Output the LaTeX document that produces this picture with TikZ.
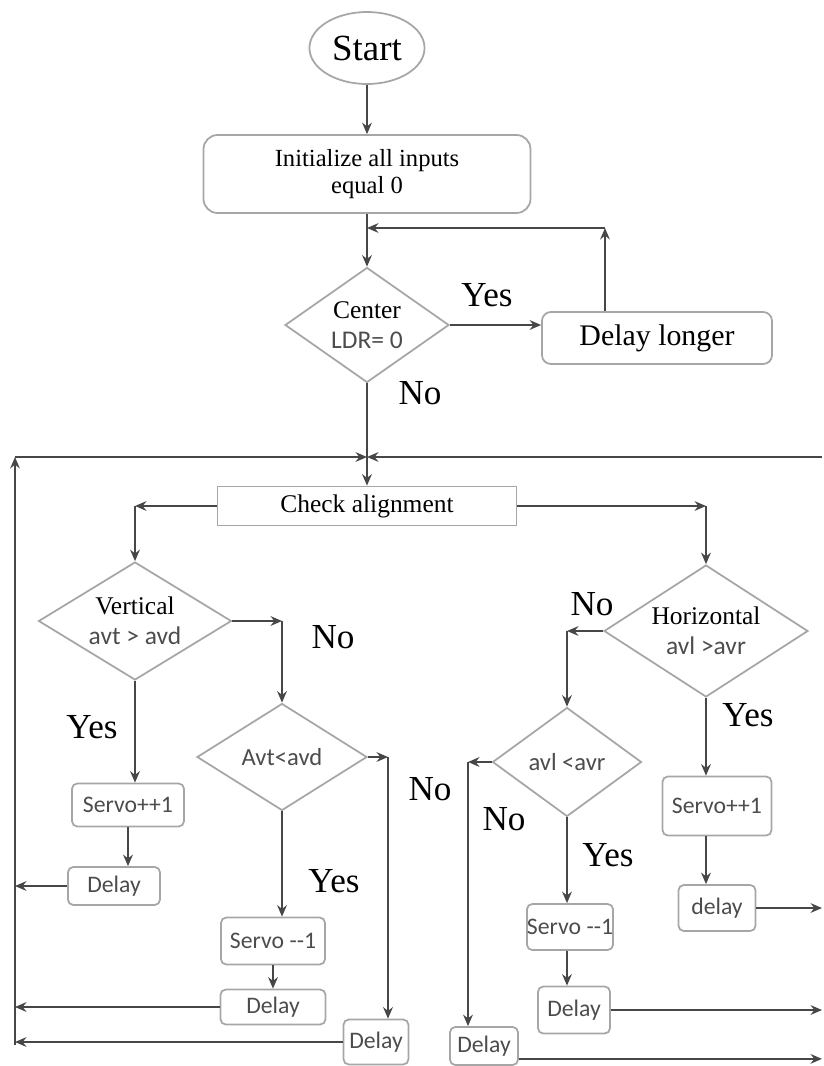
\documentclass[tikz,border=0pt]{standalone}
\usepackage{fontspec}
\setmainfont{Liberation Serif}
\setsansfont{Carlito}
\usetikzlibrary{arrows.meta, shapes.geometric}

\begin{document}
\begin{tikzpicture}[
    x=0.02cm, y=-0.02cm, % one unit is one pixel of the layout, y runs downwards
    >={Stealth[length=6.5pt, width=5.5pt]}, % Set default arrow tip style
    line/.style={->, draw=black!72, line width=1.5pt}, % Style for connectors
    outline/.style={draw=black!35, line width=1pt}, % Style for shape borders
    box/.style={outline, rounded corners=3pt, inner sep=0pt, text=black!70,
        font=\sffamily\fontsize{13.5}{16}\selectfont}, % small process boxes
    decision/.style={diamond, outline, inner sep=0pt, align=center,
        font=\fontsize{14.5}{17}\selectfont}, % decisions with serif title
    sdecision/.style={decision, text=black!70,
        font=\sffamily\fontsize{14}{16}\selectfont}, % decisions with sans text only
    lbl/.style={font=\fontsize{20}{22}\selectfont} % Yes / No labels
]
    \useasboundingbox (0,0) rectangle (824,1066);

    % Top part
    \node[ellipse, outline, minimum width=1.84cm, minimum height=1.44cm,
        font=\fontsize{21}{24}\selectfont] (start) at (367,48) {Start};
    \node[outline, rounded corners=8pt, minimum width=6.54cm, minimum height=1.56cm,
        align=center, font=\fontsize{14}{15.5}\selectfont] (init) at (367,174)
        {Initialize all inputs\\equal 0};
    \node[decision, aspect=1.43, minimum width=3.28cm, minimum height=2.30cm]
        (center) at (367,325) {Center\\{\sffamily\color{black!70}LDR= 0}};
    \node[outline, rounded corners=5pt, minimum width=4.6cm, minimum height=1.04cm,
        font=\fontsize{17}{20}\selectfont] (longer) at (657,338) {Delay longer};
    \node[outline, inner sep=0pt, minimum width=5.98cm, minimum height=0.78cm,
        font=\fontsize{14.5}{17}\selectfont] (check) at (367,506) {Check alignment};

    % Vertical branch
    \node[decision, aspect=1.64, minimum width=3.86cm, minimum height=2.36cm]
        (vert) at (135,621) {Vertical\\{\sffamily\color{black!70}avt > avd}};
    \node[sdecision, aspect=1.6, minimum width=3.4cm, minimum height=2.14cm]
        (avt) at (282,757) {Avt<avd};
    \node[box, minimum width=2.24cm, minimum height=0.86cm] (servoA) at (128,805) {Servo++1};
    \node[box, minimum width=1.84cm, minimum height=0.76cm] (delayA) at (114,886) {Delay};
    \node[box, minimum width=2.08cm, minimum height=0.94cm] (servoB) at (273,941) {Servo -{}-1};
    \node[box, minimum width=2.10cm, minimum height=0.70cm] (delayB) at (273,1007) {Delay};
    \node[box, minimum width=1.30cm, minimum height=0.90cm] (delayC) at (376,1042) {Delay};

    % Horizontal branch
    \node[decision, aspect=1.55, minimum width=4.08cm, minimum height=2.64cm]
        (horiz) at (706,631) {Horizontal\\{\sffamily\color{black!70}avl >avr}};
    \node[sdecision, aspect=1.37, minimum width=2.98cm, minimum height=2.18cm]
        (avl) at (567,762) {avl <avr};
    \node[box, minimum width=2.18cm, minimum height=1.18cm] (servoC) at (717,806) {Servo++1};
    \node[box, minimum width=1.54cm, minimum height=0.92cm] (delayD) at (717,908) {delay};
    \node[box, minimum width=1.72cm, minimum height=0.92cm] (servoD) at (570,927) {Servo -{}-1};
    \node[box, minimum width=1.44cm, minimum height=0.94cm] (delayE) at (574,1010) {Delay};
    \node[box, minimum width=1.36cm, minimum height=0.76cm] (delayF) at (484,1046) {Delay};

    % Corners of the connectors
    \coordinate (fb) at (605,228);
    \coordinate (merge) at (367,457);
    \coordinate (ltop) at (15,457);
    \coordinate (lbot) at (15,1045);
    \coordinate (rtop) at (822,457);
    \coordinate (cv) at (check.west -| vert.north);
    \coordinate (ch) at (check.east -| horiz.north);
    \coordinate (cva) at (vert.east -| avt.north);
    \coordinate (cad) at (388,757);
    \coordinate (cha) at (horiz.west -| avl.north);
    \coordinate (cfd) at (468,762);

    % Connectors of the top part
    \draw[line] (start) -- (init);
    \draw[line] (init) -- (center);
    \draw[line] (center.east) -- (center.east -| longer.west);
    \draw[line] (longer.north -| fb) -- (fb);
    \draw[line] (fb) -- (fb -| center);
    \draw[line] (center) -- (check);
    \draw[line] (lbot) -- (ltop);
    \draw[line] (ltop) -- (merge);
    \draw[line] (rtop) -- (merge);
    \draw[line] (check.west) -- (cv);
    \draw[line] (cv) -- (vert.north);
    \draw[line] (check.east) -- (ch);
    \draw[line] (ch) -- (horiz.north);

    % Connectors of the vertical branch
    \draw[line] (vert.east) -- (cva);
    \draw[line] (cva) -- (avt.north);
    \draw[line] (vert.south) -- (vert.south |- servoA.north);
    \draw[line] (servoA.south) -- (servoA.south |- delayA.north);
    \draw[line] (delayA.west) -- (delayA.west -| lbot);
    \draw[line] (avt.east) -- (cad);
    \draw[line] (cad) -- (cad |- delayC.north);
    \draw[line] (avt.south) -- (avt.south |- servoB.north);
    \draw[line] (servoB.south) -- (servoB.south |- delayB.north);
    \draw[line] (delayB.west) -- (delayB.west -| lbot);
    \draw[line] (delayC.west) -- (delayC.west -| lbot);

    % Connectors of the horizontal branch
    \draw[line] (horiz.west) -- (cha);
    \draw[line] (cha) -- (avl.north);
    \draw[line] (horiz.south) -- (horiz.south |- servoC.north);
    \draw[line] (horiz.south |- servoC.south) -- (horiz.south |- delayD.north);
    \draw[line] (delayD.east) -- (delayD.east -| rtop);
    \draw[line] (avl.west) -- (cfd);
    \draw[line] (cfd) -- (cfd |- delayF.north);
    \draw[line] (avl.south) -- (avl.south |- servoD.north);
    \draw[line] (avl.south |- servoD.south) -- (avl.south |- delayE.north);
    \draw[line] (delayE.east) -- (delayE.east -| rtop);
    \draw[line] ([yshift=0.14cm]delayF.south east) -- ([yshift=0.14cm]delayF.south east -| rtop);

    % Labels
    \node[lbl] (yesC) at (487,295) {Yes};
    \node[lbl] (noC) at (420,393) {No};
    \node[lbl] (yesV) at (92,727) {Yes};
    \node[lbl] (noV) at (333,637) {No};
    \node[lbl] (yesA) at (334,881) {Yes};
    \node[lbl] (noA) at (430,789) {No};
    \node[lbl] (noH) at (592,604) {No};
    \node[lbl] (yesH) at (748,715) {Yes};
    \node[lbl] (noL) at (504,819) {No};
    \node[lbl] (yesL) at (608,855) {Yes};
\end{tikzpicture}
\end{document}
